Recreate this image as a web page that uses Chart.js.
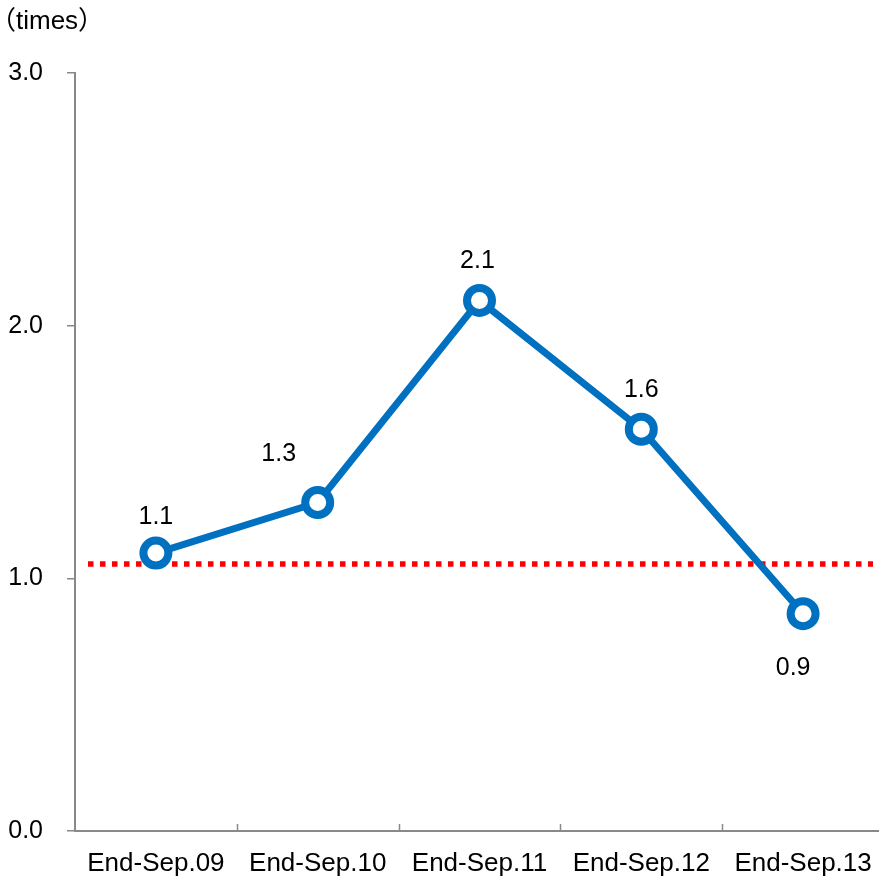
<!DOCTYPE html>
<html>
<head>
<meta charset="utf-8">
<script src="https://cdn.jsdelivr.net/npm/chart.js@4/dist/chart.umd.min.js"></script>
<style>
  html, body { margin: 0; padding: 0; background: #fff; overflow: hidden; }
  canvas { display: block; }
</style>
</head>
<body>
<canvas id="c" width="890" height="880"></canvas>
<script>
// ---- data ----
const categories = ['End-Sep.09', 'End-Sep.10', 'End-Sep.11', 'End-Sep.12', 'End-Sep.13'];
const ratioValues = [1.10, 1.30, 2.10, 1.59, 0.86];
const ratioLabels = ['1.1', '1.3', '2.1', '1.6', '0.9'];
const referenceLevel = [1.057];
const yTicks = [0, 1, 2, 3];
const unitLabel = '（times）';

// ---- styles ----
const FONT = '"Liberation Sans", Arial, "Noto Sans CJK JP", sans-serif';
const FONT_SIZE = 25;
const X_FONT_SIZE = 26;
const AXIS_COLOR = '#898989';
const BLUE = '#0070C0';
const labelOffsets = [[0, -36], [-39, -48], [-2, -39], [0, -39], [-10, 54]];

const extrasPlugin = {
  id: 'extras',
  beforeDatasetsDraw(chart) {
    const { ctx, chartArea, scales } = chart;
    const y = scales.y.getPixelForValue(referenceLevel[0]);
    ctx.save();
    ctx.strokeStyle = '#FF0000';
    ctx.lineWidth = 5.5;
    ctx.setLineDash([5.5, 6.5]);
    ctx.beginPath();
    ctx.moveTo(chartArea.left + 13, y);
    ctx.lineTo(chartArea.right - 11, y);
    ctx.stroke();
    ctx.restore();
  },
  afterDraw(chart) {
    const { ctx, chartArea, scales } = chart;
    ctx.save();
    // inward x tick marks between categories
    ctx.strokeStyle = AXIS_COLOR;
    ctx.lineWidth = 1.5;
    for (let i = 1; i < categories.length; i++) {
      const x = Math.round((scales.x.getPixelForValue(i - 1) + scales.x.getPixelForValue(i)) / 2) + 0.5;
      ctx.beginPath();
      ctx.moveTo(x, chartArea.bottom);
      ctx.lineTo(x, chartArea.bottom - 7);
      ctx.stroke();
    }
    // unit label
    ctx.fillStyle = '#000';
    ctx.font = '26px ' + FONT;
    ctx.textAlign = 'left';
    ctx.textBaseline = 'middle';
    ctx.fillText(unitLabel, -10, 22);
    // data labels
    ctx.font = FONT_SIZE + 'px ' + FONT;
    ctx.textAlign = 'center';
    const meta = chart.getDatasetMeta(0);
    meta.data.forEach((pt, i) => {
      const [dx, dy] = labelOffsets[i];
      ctx.fillText(ratioLabels[i], pt.x + dx, pt.y + dy);
    });
    ctx.restore();
  }
};

new Chart(document.getElementById('c'), {
  type: 'line',
  data: {
    labels: categories,
    datasets: [{
      data: ratioValues,
      borderColor: BLUE,
      borderWidth: 7,
      tension: 0,
      pointRadius: 12.5,
      pointHoverRadius: 12.5,
      pointBorderWidth: 8,
      pointBackgroundColor: '#fff',
      pointBorderColor: BLUE,
      clip: false
    }]
  },
  options: {
    responsive: false,
    animation: false,
    events: [],
    layout: { autoPadding: false, padding: { top: 73, left: 0, right: 6, bottom: 0 } },
    plugins: {
      legend: { display: false },
      tooltip: { enabled: false },
      title: { display: false }
    },
    scales: {
      x: {
        type: 'category',
        offset: true,
        grid: { display: false, drawTicks: false, offset: true },
        border: { display: true, color: AXIS_COLOR, width: 2 },
        ticks: {
          color: '#000',
          font: { family: FONT, size: X_FONT_SIZE },
          padding: 17,
          maxRotation: 0,
          autoSkip: false
        },
        afterFit(scale) { scale.height = 49; scale.paddingRight = 0; scale.paddingLeft = 0; }
      },
      y: {
        min: 0,
        max: 3,
        afterBuildTicks(scale) { scale.ticks = yTicks.map(v => ({ value: v })); },
        grid: { drawOnChartArea: false, drawTicks: true, tickLength: 8, color: AXIS_COLOR, lineWidth: 1.5 },
        border: { display: true, color: AXIS_COLOR, width: 2 },
        ticks: {
          color: '#000',
          font: { family: FONT, size: FONT_SIZE },
          padding: 24,
          callback: v => Number(v).toFixed(1)
        },
        afterFit(scale) { scale.width = 75; }
      }
    }
  },
  plugins: [extrasPlugin]
});
</script>
</body>
</html>
